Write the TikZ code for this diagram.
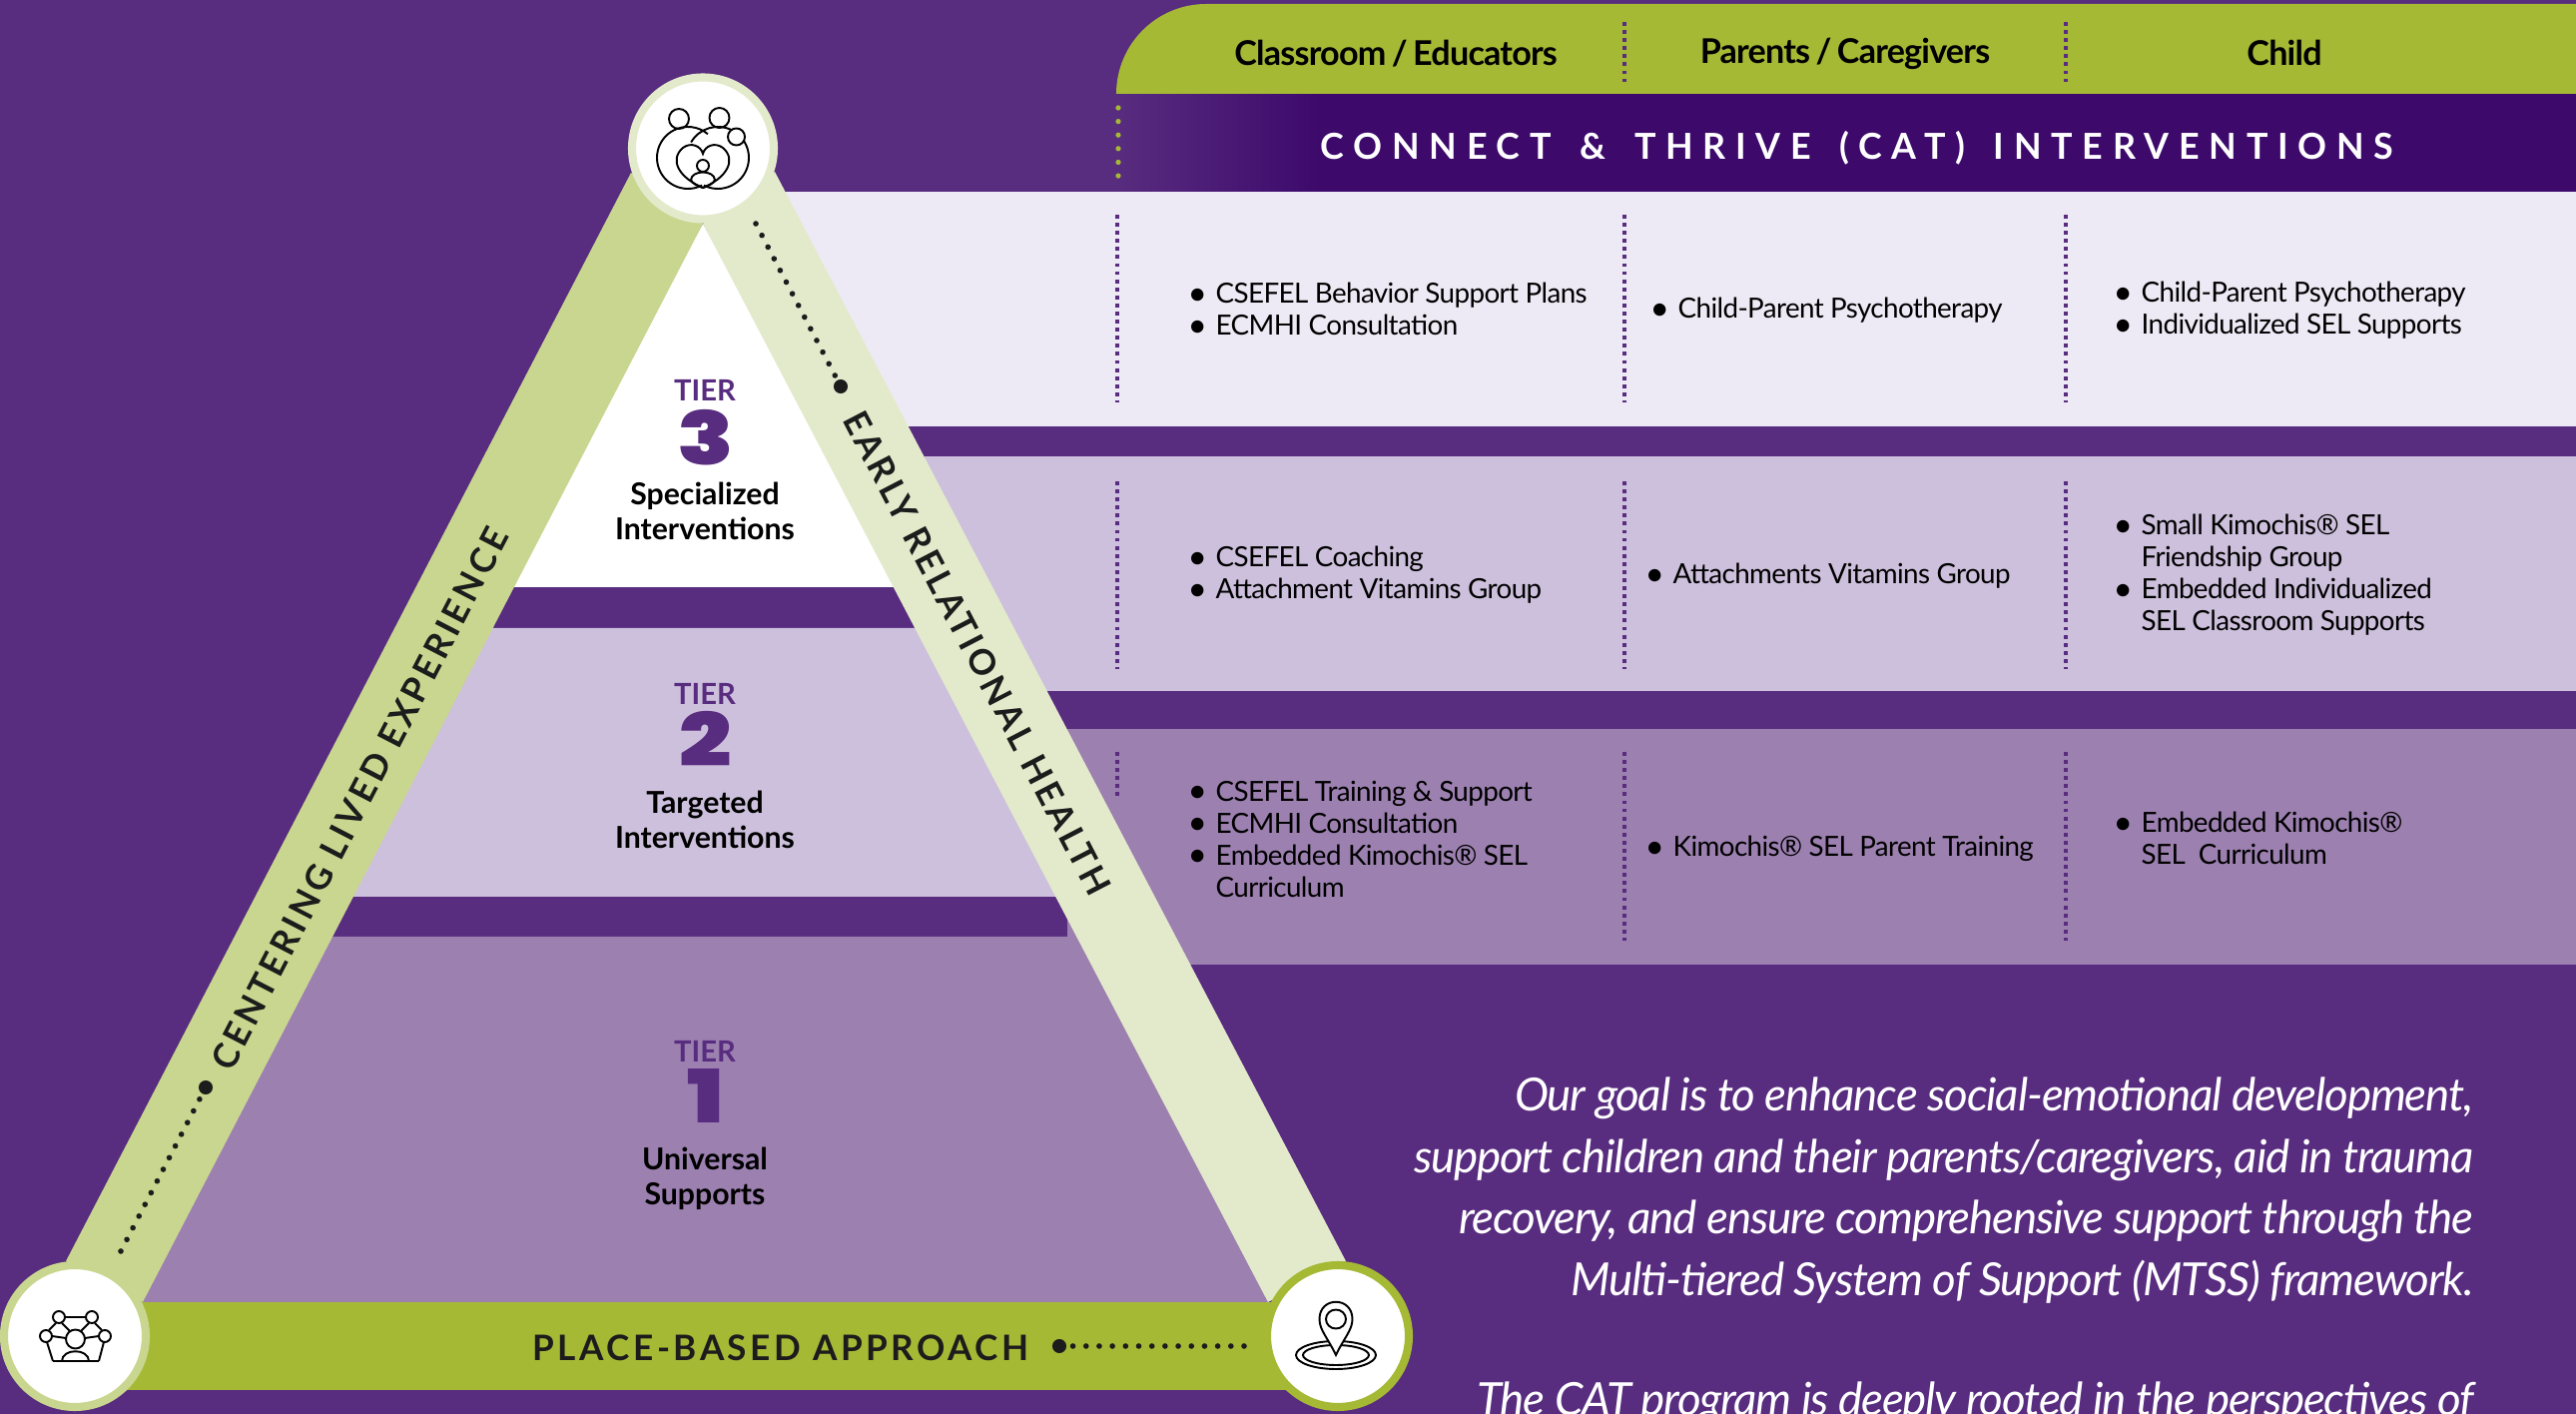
\documentclass[tikz,border=0pt]{standalone}
\usepackage{fontspec}
\setmainfont{Lato}
\newfontfamily\digitfont{Poppins}[UprightFont=* Black]
\usetikzlibrary{positioning}
\definecolor{Backing}{HTML}{582C7F}
\definecolor{DeepBand}{HTML}{3D0A6C}
\definecolor{Olive}{HTML}{A5B935}
\definecolor{SoftOlive}{HTML}{C9D68F}
\definecolor{PaleOlive}{HTML}{E3EACB}
\definecolor{RowOne}{HTML}{EDEAF5}
\definecolor{RowTwo}{HTML}{CDC0DC}
\definecolor{RowThree}{HTML}{9C80B0}
\definecolor{Ink}{HTML}{1C1C1C}
\newcommand{\itm}{\makebox[0pt][r]{\raisebox{-0.55pt}{\fontsize{9.5}{9.1}\selectfont\textbullet}\hspace{2.5pt}}}
\tikzset{
    cell/.style={anchor=west, align=left, inner sep=0pt, text=black, font=\fontsize{7.9}{9.1}\selectfont\addfontfeatures{LetterSpace=-2.2}},
    head/.style={inner sep=0pt, text=black, font={\fontsize{9.7}{11}\selectfont\bfseries\addfontfeatures{LetterSpace=-2.3}\spaceskip=0.16em}},
    tierword/.style={inner sep=0pt, text=Backing, font=\fontsize{8.3}{10}\selectfont\bfseries},
    tiernum/.style={inner sep=0pt, text=Backing, xscale=1.25, font=\fontsize{21}{21}\digitfont},
    tiername/.style={inner sep=0pt, align=center, text=black, font=\fontsize{8.6}{10}\selectfont\bfseries},
    bandword/.style={inner sep=0pt, text=Ink, font=\fontsize{10}{12}\selectfont\bfseries\addfontfeatures{LetterSpace=10}},
    goal/.style={anchor=east, align=right, inner sep=0pt, text=white, font=\fontsize{13}{17.5}\selectfont\itshape\addfontfeatures{LetterSpace=-2.6}},
    vline/.style={draw=Backing, line width=1pt, dash pattern=on 1.1pt off 1.2pt},
    icon/.style={draw=black, line width=0.55pt},
    ring/.style={fill=white, line width=2.3pt},
    bigdot/.style={circle, fill=Ink, inner sep=0pt, minimum size=4pt},
    fineDots/.style={draw=Ink, line width=1.6pt, line cap=round, dash pattern=on 0pt off 3.75pt}
}
\begin{document}
\begin{tikzpicture}[x=0.01cm, y=-0.01cm]
    \useasboundingbox (0, 0) rectangle (2580, 1416);
    \fill[Backing] (0, 0) rectangle (2580, 1416);

    % table rows and header
    \fill[RowOne] (785, 192) rectangle (2580, 427);
    \fill[RowTwo] (926, 457) rectangle (2580, 692);
    \fill[RowThree] (1069, 730) rectangle (2580, 966);
    \fill[DeepBand] (1310, 94) rectangle (2580, 192);
    \fill[left color=Backing, right color=DeepBand] (1118, 94) rectangle (1320, 192);
    \fill[Olive] (1118, 94) arc[start angle=180, end angle=270, radius=90] -- (2580, 4) -- (2580, 94) -- cycle;

    \foreach \x in {1627, 2069} {
        \draw[vline] (\x, 22) -- (\x, 82);
        \draw[vline] (\x, 215) -- (\x, 403);
        \draw[vline] (\x, 482) -- (\x, 670);
        \draw[vline] (\x, 753) -- (\x, 942);
    }
    \draw[vline] (1119, 215) -- (1119, 403);
    \draw[vline] (1119, 482) -- (1119, 670);
    \draw[vline] (1119, 753) -- (1119, 798);
    \draw[Olive, line width=1.5pt, line cap=round, dash pattern=on 0pt off 3.87pt] (1120, 108) -- (1120, 178);

    \node[head] (classroom) at (1398, 54) {Classroom / Educators};
    \node[head] (parents) at (1848, 53.5) {Parents / Caregivers};
    \node[head] (child) at (2288, 53) {Child};
    \node[inner sep=0pt, text=white, font={\fontsize{10.2}{12}\selectfont\bfseries\addfontfeatures{LetterSpace=27}\spaceskip=0.8em}] (catband) at (1860, 148) {CONNECT \& THRIVE (CAT) INTERVENTIONS};

    % pyramid tiers
    \fill[white] (704, 224) -- (904, 588) -- (504, 588) -- cycle;
    \fill[RowTwo] (480, 629) -- (930, 629) -- (1070, 898) -- (340, 898) -- cycle;
    \fill[RowThree] (320, 938) -- (1090, 938) -- (1270, 1304) -- (143, 1304) -- cycle;

    % sides
    \fill[SoftOlive] (632, 173) -- (704, 224) -- (143, 1304) -- (66, 1263) -- cycle;
    \fill[PaleOlive] (776, 172) -- (1348, 1263) -- (1270, 1304) -- (704, 224) -- cycle;
    \fill[Olive] (75, 1304) rectangle (1340, 1392);

    \node[tierword] (wordthree) at (706, 391) {TIER};
    \node[tiernum] (numthree) at (707, 438) {3};
    \node[tiername] (namethree) at (706, 512) {Specialized\\Interventions};
    \node[tierword] (wordtwo) at (706, 695) {TIER};
    \node[tiernum] (numtwo) at (707, 740) {2};
    \node[tiername] (nametwo) at (706, 821) {Targeted\\Interventions};
    \node[tierword] (wordone) at (706, 1053) {TIER};
    \node[tiernum] (numone) at (707, 1098) {1};
    \node[tiername] (nameone) at (706, 1180) {Universal\\Supports};

    % band labels and dots
    \node[bandword, rotate=-62.6] (early) at (979, 654) {EARLY RELATIONAL HEALTH};
    \node[bandword, rotate=62.6] (centering) at (360, 800) {CENTERING LIVED EXPERIENCE};
    \node[bandword] (place) at (782, 1350) {PLACE-BASED APPROACH};
    \node[bigdot] (dotearly) at (842, 387) {};
    \node[bigdot] (dotcentre) at (206, 1089) {};
    \node[bigdot] (dotplace) at (1061, 1348) {};
    \coordinate (endearly) at (757, 224);
    \coordinate (endcentre) at (121, 1253);
    \coordinate (endplace) at (1246, 1348);
    \draw[fineDots] (endearly) -- (dotearly);
    \draw[fineDots] (endcentre) -- (dotcentre);
    \draw[fineDots] (endplace) -- (dotplace);

    % the three medallions
    \draw[ring, draw=PaleOlive] (704, 148.5) circle (71);
    \draw[ring, draw=SoftOlive] (75, 1338) circle (71);
    \draw[ring, draw=Olive] (1340, 1338) circle (71);

    % family
    \draw[icon] (680, 119) circle (10);
    \draw[icon] (720.5, 118) circle (10);
    \draw[icon] (689, 158) ++(63:31) arc[start angle=63, end angle=310, radius=31];
    \draw[icon] (719, 158) ++(117:31) arc[start angle=117, end angle=-150, radius=31];
    \draw[icon, fill=white] (737.5, 137) circle (8.5);
    \draw[icon] (704, 188) .. controls (680, 178) and (670, 160) .. (684, 148) .. controls (692, 142) and (702, 146) .. (704, 154) .. controls (706, 146) and (716, 142) .. (724, 148) .. controls (738, 160) and (728, 178) .. cycle;
    \draw[icon] (704, 166) circle (6);
    \draw[icon] (692, 180) .. controls (693, 170) and (715, 170) .. (716, 180) .. controls (715, 184) and (708, 187) .. (704, 188) .. controls (700, 187) and (693, 184) .. cycle;

    % community
    \foreach \px/\py/\qx/\qy in {65/1319/86/1319, 56/1325/49/1332, 62/1325/70/1333, 95/1325/102/1332, 89/1325/81/1333, 52/1338/66/1340, 99/1338/85/1340, 47/1344/53/1363, 104/1344/99/1363, 53/1363/99/1363} {
        \draw[icon] (\px, \py) -- (\qx, \qy);
    }
    \foreach \px/\py in {59/1319, 92/1319, 46/1338, 105/1338} {
        \draw[icon] (\px, \py) circle (6);
    }
    \draw[icon] (75.5, 1341) circle (9.5);
    \draw[icon] (62, 1363) .. controls (62, 1350) and (89, 1350) .. (89, 1363);

    % place marker
    \draw[icon] (1338, 1357) ellipse (40 and 14);
    \draw[icon] (1338, 1357) ellipse (33 and 10);
    \draw[icon, fill=white] (1338, 1357) .. controls (1330, 1340) and (1321.5, 1332) .. (1321.5, 1321) .. controls (1321.5, 1298) and (1354.5, 1298) .. (1354.5, 1321) .. controls (1354.5, 1332) and (1346, 1340) .. cycle;
    \draw[icon] (1338, 1321) ellipse (10 and 9.5);

    % cells
    \node[cell] (csefelplans) at (1217, 310) {\itm CSEFEL Behavior Support Plans\\\itm ECMHI Consultation};
    \node[cell] (cppone) at (1680, 311) {\itm Child-Parent Psychotherapy};
    \node[cell] (cpptwo) at (2144, 311) {\itm Child-Parent Psychotherapy\\\itm Individualized SEL Supports};
    \node[cell] (coaching) at (1217, 576) {\itm CSEFEL Coaching\\\itm Attachment Vitamins Group};
    \node[cell] (vitamins) at (1675, 577) {\itm Attachments Vitamins Group};
    \node[cell] (friends) at (2144, 576) {\itm Small Kimochis® SEL\\Friendship Group\\\itm Embedded Individualized\\SEL Classroom Supports};
    \node[cell] (training) at (1217, 840) {\itm CSEFEL Training \& Support\\\itm ECMHI Consultation\\\itm Embedded Kimochis® SEL\\Curriculum};
    \node[cell] (parenttrain) at (1675, 850) {\itm Kimochis® SEL Parent Training};
    \node[cell] (curriculum) at (2144, 839) {\itm Embedded Kimochis®\\SEL\ \ Curriculum};

    % goal statement
    \node[goal] (goaltext) at (2478, 1192) {Our goal is to enhance social-emotional development,\\support children and their parents/caregivers, aid in trauma\\recovery, and ensure comprehensive support through the\\Multi-tiered System of Support (MTSS) framework.};
    \node[goal] (rooted) at (2478, 1405) {The CAT program is deeply rooted in the perspectives of};
\end{tikzpicture}
\end{document}
